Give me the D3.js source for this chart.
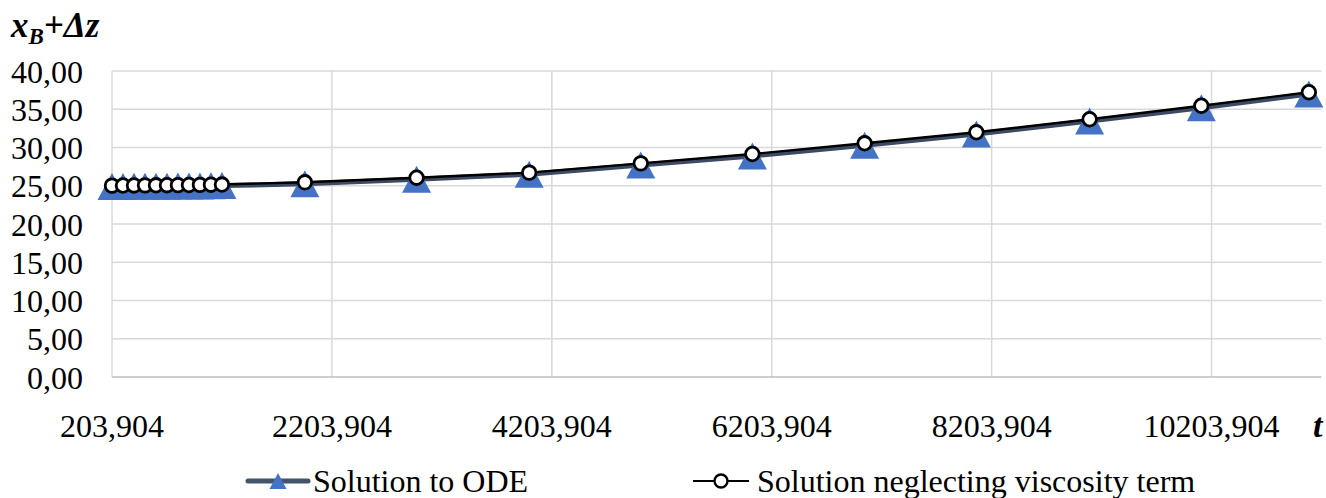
<!DOCTYPE html>
<html>
<head>
<meta charset="utf-8">
<script src="https://cdn.jsdelivr.net/npm/d3@7"></script>
<style>
  html, body { margin: 0; padding: 0; background: #fff; }
  svg { display: block; }
  text { font-family: "Liberation Serif", "Times New Roman", serif; fill: #000; }
</style>
</head>
<body>
<svg id="chart" width="1326" height="498"></svg>
<script>
// ---- data ----
const tValues = [203.904, 303.904, 403.904, 503.904, 603.904, 703.904, 803.904, 903.904, 1003.904, 1103.904, 1203.904,
                 1958, 2974, 3998, 5013, 6028, 7049, 8065, 9095, 10111, 11089];
const odeValues = [24.90, 24.91, 24.92, 24.93, 24.94, 24.95, 24.96, 24.97, 24.98, 25.00, 25.02,
                   25.25, 25.85, 26.50, 27.70, 28.90, 30.30, 31.75, 33.45, 35.20, 37.00];
const noViscValues = [25.02, 25.03, 25.04, 25.05, 25.06, 25.07, 25.08, 25.10, 25.12, 25.14, 25.16,
                      25.45, 26.05, 26.71, 27.93, 29.15, 30.55, 31.99, 33.69, 35.46, 37.22];
const xTicks = [203.904, 2203.904, 4203.904, 6203.904, 8203.904, 10203.904];
const yTicks = [0, 5, 10, 15, 20, 25, 30, 35, 40];
const seriesNames = ["Solution to ODE", "Solution neglecting viscosity term"];

(function () {
// ---- layout ----
const svg = d3.select("#chart");
const pL = 112, pR = 1321.5, pT = 71, pB = 377;
const x = d3.scaleLinear().domain([203.904, 11203.904]).range([pL, pR]);
const y = d3.scaleLinear().domain([0, 40]).range([pB, pT]);
const fmtX = v => d3.format(".3f")(v).replace(".", ",");
const fmtY = v => d3.format(".2f")(v).replace(".", ",");
const FS = 32;

// gridlines
svg.append("g").selectAll("line").data(yTicks.filter(d => d > 0)).join("line")
  .attr("x1", pL).attr("x2", pR)
  .attr("y1", d => y(d)).attr("y2", d => y(d))
  .attr("stroke", "#d9d9d9").attr("stroke-width", 1.5);
svg.append("g").selectAll("line").data(xTicks).join("line")
  .attr("x1", d => x(d)).attr("x2", d => x(d))
  .attr("y1", pT).attr("y2", pB)
  .attr("stroke", "#d9d9d9").attr("stroke-width", 1.5);
// bottom axis line
svg.append("line").attr("x1", pL).attr("x2", pR).attr("y1", pB).attr("y2", pB)
  .attr("stroke", "#bfbfbf").attr("stroke-width", 1.5);

// y tick labels
svg.append("g").selectAll("text").data(yTicks).join("text")
  .attr("x", 83).attr("y", d => y(d) + 11.5)
  .attr("text-anchor", "end").attr("font-size", FS)
  .text(fmtY);
// x tick labels
svg.append("g").selectAll("text").data(xTicks).join("text")
  .attr("x", d => x(d)).attr("y", 436.5)
  .attr("text-anchor", "middle").attr("font-size", FS)
  .text(fmtX);

// axis titles
const yt = svg.append("text").attr("x", 11).attr("y", 37)
  .attr("font-size", 35).attr("font-weight", "bold").attr("font-style", "italic");
yt.append("tspan").text("x");
yt.append("tspan").attr("font-size", 23).attr("dy", 7).text("B");
yt.append("tspan").attr("dy", -7).text("+Δz");
svg.append("text").attr("x", 1313).attr("y", 436.5)
  .attr("font-size", 34).attr("font-weight", "bold").attr("font-style", "italic").text("t");

// lines
const pts1 = tValues.map((t, i) => [t, odeValues[i]]);
const pts2 = tValues.map((t, i) => [t, noViscValues[i]]);
const line = d3.line().x(d => x(d[0])).y(d => y(d[1]));
svg.append("path").attr("d", line(pts1)).attr("fill", "none")
  .attr("stroke", "#3d4a63").attr("stroke-width", 5).attr("stroke-linejoin", "round");
// triangles
const triW = 29, triH = 27;
const tri = (w, h) => `M0,${-h/2}L${w/2},${h/2}L${-w/2},${h/2}Z`;
svg.append("g").selectAll("path").data(pts1).join("path")
  .attr("transform", d => `translate(${x(d[0])},${y(d[1])})`)
  .attr("d", tri(triW, triH)).attr("fill", "#4472c4");
svg.append("path").attr("d", line(pts2)).attr("fill", "none")
  .attr("stroke", "#000").attr("stroke-width", 2.4).attr("stroke-linejoin", "round");
svg.append("g").selectAll("circle").data(pts2).join("circle")
  .attr("cx", d => x(d[0])).attr("cy", d => y(d[1])).attr("r", 6.8)
  .attr("fill", "#fff").attr("stroke", "#000").attr("stroke-width", 2.8);

// legend
const lg = svg.append("g");
lg.append("line").attr("x1", 248).attr("x2", 308).attr("y1", 481).attr("y2", 481)
  .attr("stroke", "#44546a").attr("stroke-width", 5).attr("stroke-linecap", "round");
lg.append("path").attr("transform", "translate(278,481)").attr("d", tri(17, 16)).attr("fill", "#4472c4");
lg.append("text").attr("x", 313).attr("y", 491.5).attr("font-size", FS).text(seriesNames[0]);
lg.append("line").attr("x1", 693).attr("x2", 749).attr("y1", 481).attr("y2", 481)
  .attr("stroke", "#000").attr("stroke-width", 1.8);
lg.append("circle").attr("cx", 721).attr("cy", 481).attr("r", 6.5)
  .attr("fill", "#fff").attr("stroke", "#000").attr("stroke-width", 2.4);
lg.append("text").attr("x", 757).attr("y", 491.5).attr("font-size", FS).text(seriesNames[1]);
})();
</script>
</body>
</html>
